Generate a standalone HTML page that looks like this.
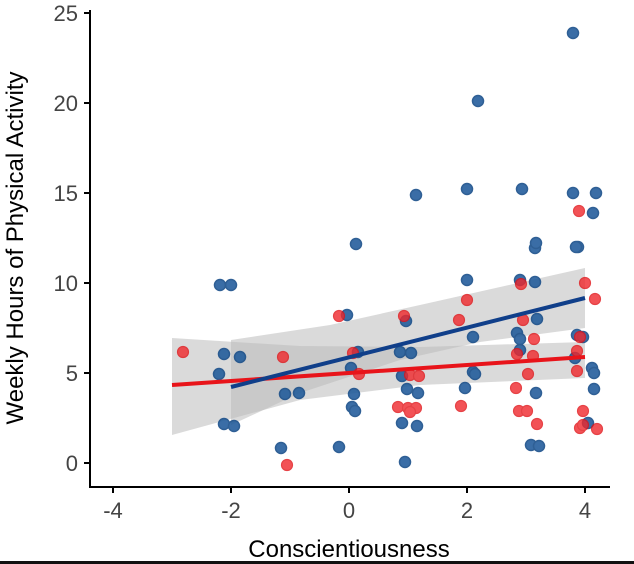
<!DOCTYPE html>
<html><head><style>body{margin:0;background:#fff}svg{display:block}</style></head><body>
<svg width="634" height="564" xmlns="http://www.w3.org/2000/svg" font-family="Liberation Sans, sans-serif">
<rect width="634" height="564" fill="#fff"/>
<rect x="0" y="561" width="634" height="3" fill="#111"/>
<polygon points="172,338 300,346 420,347 585,342 585,378 420,385 300,400 172,435" fill="#bbb" opacity="0.55"/>
<polygon points="231,340 330,325 420,305 585,268 585,328 480,342 400,360 300,393 231,425" fill="#bbb" opacity="0.55"/>
<g fill="#1f5a9a" stroke="#134a87" stroke-width="1.5" opacity="0.88">
<circle cx="220" cy="285" r="5.5"/><circle cx="231" cy="285" r="5.5"/><circle cx="224" cy="354" r="5.5"/><circle cx="240" cy="357" r="5.5"/><circle cx="219" cy="374" r="5.5"/><circle cx="224" cy="424" r="5.5"/><circle cx="234" cy="426" r="5.5"/><circle cx="285" cy="394" r="5.5"/><circle cx="299" cy="393" r="5.5"/><circle cx="281" cy="448" r="5.5"/><circle cx="339" cy="447" r="5.5"/><circle cx="347" cy="315" r="5.5"/><circle cx="358" cy="352" r="5.5"/><circle cx="351" cy="368" r="5.5"/><circle cx="354" cy="394" r="5.5"/><circle cx="352" cy="407" r="5.5"/><circle cx="355" cy="411" r="5.5"/><circle cx="356" cy="244" r="5.5"/>
<circle cx="535" cy="248" r="5.5"/><circle cx="578" cy="247" r="5.5"/><circle cx="467" cy="280" r="5.5"/><circle cx="520" cy="280" r="5.5"/><circle cx="535" cy="282" r="5.5"/><circle cx="406" cy="321" r="5.5"/><circle cx="473" cy="337" r="5.5"/><circle cx="517" cy="333" r="5.5"/><circle cx="520" cy="339" r="5.5"/><circle cx="537" cy="319" r="5.5"/><circle cx="577" cy="335" r="5.5"/><circle cx="583" cy="337" r="5.5"/><circle cx="400" cy="352" r="5.5"/><circle cx="411" cy="353" r="5.5"/><circle cx="520" cy="350" r="5.5"/><circle cx="473" cy="372" r="5.5"/><circle cx="475" cy="374" r="5.5"/><circle cx="402" cy="376" r="5.5"/><circle cx="407" cy="389" r="5.5"/><circle cx="418" cy="393" r="5.5"/><circle cx="465" cy="388" r="5.5"/><circle cx="536" cy="393" r="5.5"/><circle cx="592" cy="368" r="5.5"/><circle cx="594" cy="373" r="5.5"/><circle cx="594" cy="389" r="5.5"/><circle cx="402" cy="423" r="5.5"/><circle cx="417" cy="426" r="5.5"/><circle cx="405" cy="462" r="5.5"/><circle cx="531" cy="445" r="5.5"/><circle cx="539" cy="446" r="5.5"/><circle cx="588" cy="423" r="5.5"/><circle cx="575" cy="358" r="5.5"/>
<circle cx="416" cy="195" r="5.5"/><circle cx="467" cy="189" r="5.5"/><circle cx="478" cy="101" r="5.5"/><circle cx="522" cy="189" r="5.5"/><circle cx="573" cy="33" r="5.5"/><circle cx="573" cy="193" r="5.5"/><circle cx="593" cy="213" r="5.5"/><circle cx="596" cy="193" r="5.5"/><circle cx="576" cy="247" r="5.5"/><circle cx="536" cy="243" r="5.5"/>
</g>
<g fill="#f0282c" stroke="#e01418" stroke-width="1.2" opacity="0.8">
<circle cx="183" cy="352" r="5.5"/><circle cx="283" cy="357" r="5.5"/><circle cx="287" cy="465" r="5.5"/><circle cx="339" cy="316" r="5.5"/><circle cx="353" cy="353" r="5.5"/><circle cx="359" cy="374" r="5.5"/>
<circle cx="404" cy="316" r="5.5"/><circle cx="467" cy="300" r="5.5"/><circle cx="521" cy="284" r="5.5"/><circle cx="585" cy="283" r="5.5"/><circle cx="595" cy="299" r="5.5"/><circle cx="459" cy="320" r="5.5"/><circle cx="523" cy="320" r="5.5"/><circle cx="534" cy="339" r="5.5"/><circle cx="580" cy="337" r="5.5"/><circle cx="517" cy="354" r="5.5"/><circle cx="533" cy="356" r="5.5"/><circle cx="577" cy="351" r="5.5"/><circle cx="577" cy="371" r="5.5"/><circle cx="528" cy="374" r="5.5"/><circle cx="410" cy="375" r="5.5"/><circle cx="419" cy="376" r="5.5"/><circle cx="398" cy="407" r="5.5"/><circle cx="408" cy="408" r="5.5"/><circle cx="416" cy="408" r="5.5"/><circle cx="410" cy="412" r="5.5"/><circle cx="461" cy="406" r="5.5"/><circle cx="516" cy="388" r="5.5"/><circle cx="519" cy="411" r="5.5"/><circle cx="527" cy="411" r="5.5"/><circle cx="537" cy="424" r="5.5"/><circle cx="583" cy="411" r="5.5"/><circle cx="580" cy="428" r="5.5"/><circle cx="583" cy="425" r="5.5"/><circle cx="597" cy="429" r="5.5"/><circle cx="579" cy="211" r="5.5"/>
</g>
<line x1="172" y1="385" x2="585" y2="357" stroke="#e8141a" stroke-width="4"/>
<line x1="231" y1="387" x2="585" y2="298" stroke="#103f8a" stroke-width="4"/>
<g stroke="#000" stroke-width="2" fill="none">
<line x1="90" y1="10" x2="90" y2="488"/><line x1="89" y1="487" x2="610" y2="487"/>
<path d="M84,13H90M84,103H90M84,193H90M84,283H90M84,373H90M84,463H90"/>
<path d="M113,487V493M231,487V493M349,487V493M467,487V493M585,487V493"/>
</g>
<g font-size="22" fill="#444" text-anchor="end">
<text x="78" y="21">25</text><text x="78" y="111">20</text><text x="78" y="201">15</text><text x="78" y="291">10</text><text x="78" y="381">5</text><text x="78" y="471">0</text>
</g>
<g font-size="22" fill="#444" text-anchor="middle">
<text x="113" y="518">-4</text><text x="231" y="518">-2</text><text x="349" y="518">0</text><text x="467" y="518">2</text><text x="585" y="518">4</text>
</g>
<text x="349" y="557" font-size="24" text-anchor="middle" fill="#000">Conscientiousness</text>
<text transform="translate(23,248) rotate(-90)" font-size="24" text-anchor="middle" fill="#000">Weekly Hours of Physical Activity</text>
</svg>
</body></html>
